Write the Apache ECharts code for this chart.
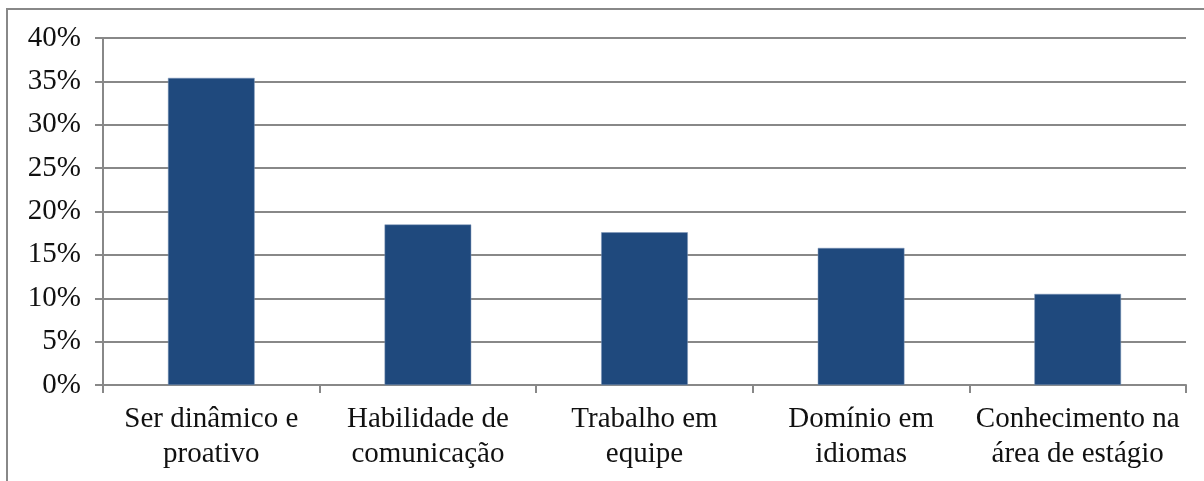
<!DOCTYPE html>
<html>
<head>
<meta charset="utf-8">
<script src="https://cdn.jsdelivr.net/npm/echarts@6/dist/echarts.min.js"></script>
<style>
  html, body { margin: 0; padding: 0; background: #fff; }
  #chart { width: 1204px; height: 481px; }
</style>
</head>
<body>
<div id="chart"></div>
<script>
// categorias e percentuais
const categories = [
  'Ser dinâmico e\nproativo',
  'Habilidade de\ncomunicação',
  'Trabalho em\nequipe',
  'Domínio em\nidiomas',
  'Conhecimento na\nárea de estágio'
]
const values = [35.4, 18.5, 17.6, 15.8, 10.5]
const yMin = 0
const yMax = 40
const yStep = 5

const chart = echarts.init(document.getElementById('chart'))
const font = '"Liberation Serif", "Times New Roman", serif'
const gray = '#888888'

const option = {
  animation: false,
  backgroundColor: '#fff',
  graphic: [{
    type: 'rect',
    shape: { x: 7, y: 9, width: 1210, height: 490 },
    style: { fill: 'none', stroke: gray, lineWidth: 2 },
    silent: true
  }],
  grid: { left: 103, right: 18, top: 38, bottom: 96 },
  xAxis: {
    type: 'category',
    data: categories,
    axisLine: { lineStyle: { color: gray, width: 2 } },
    axisTick: { show: true, length: 8, lineStyle: { color: gray, width: 2 } },
    axisLabel: {
      color: '#111',
      fontFamily: font,
      fontSize: 29,
      lineHeight: 35,
      margin: 17,
      interval: 0
    }
  },
  yAxis: {
    type: 'value',
    min: yMin,
    max: yMax,
    interval: yStep,
    axisLine: { show: true, lineStyle: { color: gray, width: 2 } },
    axisTick: { show: true, length: 8, lineStyle: { color: gray, width: 2 } },
    splitLine: { lineStyle: { color: gray, width: 2 } },
    axisLabel: {
      formatter: '{value}%',
      color: '#111',
      fontFamily: font,
      fontSize: 29,
      margin: 22
    }
  },
  series: [{
    type: 'bar',
    data: values,
    barCategoryGap: '60%',
    itemStyle: { color: '#1F497D', borderColor: '#7f97b8', borderWidth: 0.5 }
  }]
}
chart.setOption(option)
</script>
</body>
</html>
